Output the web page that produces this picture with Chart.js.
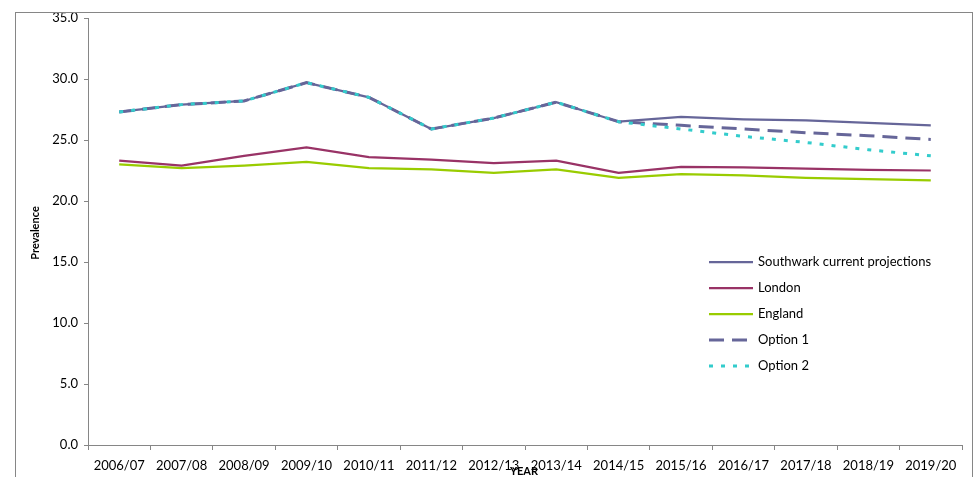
<!DOCTYPE html>
<html>
<head>
<meta charset="utf-8">
<script src="https://cdn.jsdelivr.net/npm/chart.js@4.4.0/dist/chart.umd.min.js"></script>
<style>
  body { margin: 0; background: #fff; }
  canvas { display: block; }
</style>
</head>
<body>
<canvas id="chart" width="976" height="477"></canvas>
<script>
// Chart data
const years = ['2006/07', '2007/08', '2008/09', '2009/10', '2010/11', '2011/12', '2012/13',
    '2013/14', '2014/15', '2015/16', '2016/17', '2017/18', '2018/19', '2019/20'];
const southwark = [27.3, 27.9, 28.2, 29.7, 28.5, 25.9, 26.8, 28.1, 26.5, 26.9, 26.7, 26.6, 26.4, 26.2];
const london = [23.3, 22.9, 23.7, 24.4, 23.6, 23.4, 23.1, 23.3, 22.3, 22.8, 22.75, 22.65, 22.55, 22.5];
const england = [23.0, 22.7, 22.9, 23.2, 22.7, 22.6, 22.3, 22.6, 21.9, 22.2, 22.1, 21.9, 21.8, 21.7];
const option1 = [27.3, 27.9, 28.2, 29.7, 28.5, 25.9, 26.8, 28.1, 26.5, 26.2, 25.9, 25.6, 25.35, 25.05];
const option2 = [27.3, 27.9, 28.2, 29.7, 28.5, 25.9, 26.8, 28.1, 26.5, 25.9, 25.3, 24.8, 24.2, 23.7];
const yTicks = [0, 5, 10, 15, 20, 25, 30, 35];

const FONT = 'Lato, "Liberation Sans", sans-serif';
const AXIS_GREY = '#868686';

const series = [
    { label: 'Southwark current projections', data: southwark, color: '#666699', dash: [], width: 2.25, order: 3 },
    { label: 'London', data: london, color: '#993366', dash: [], width: 2.25, order: 4 },
    { label: 'England', data: england, color: '#99CC00', dash: [], width: 2.25, order: 5 },
    { label: 'Option 1', data: option1, color: '#666699', dash: [15, 8], width: 3, order: 2 },
    { label: 'Option 2', data: option2, color: '#33CCCC', dash: [4, 8], width: 3, order: 1 }
];

// Frame, axis titles and the legend inside the plot
const decorations = {
    id: 'decorations',
    afterDraw(chart) {
        const ctx = chart.ctx;
        ctx.save();

        ctx.strokeStyle = AXIS_GREY;
        ctx.lineWidth = 1;
        ctx.strokeRect(15.5, 12.5, 957, 480);

        ctx.fillStyle = '#000';
        ctx.font = 'bold 11px ' + FONT;
        ctx.textAlign = 'center';
        ctx.textBaseline = 'middle';
        ctx.fillText('YEAR', 524, 471);

        ctx.save();
        ctx.translate(35, 233);
        ctx.rotate(-Math.PI / 2);
        ctx.fillText('Prevalence', 0, 0);
        ctx.restore();

        ctx.font = '13px ' + FONT;
        ctx.textAlign = 'left';
        series.forEach((s, i) => {
            const y = 262 + i * 26;
            ctx.beginPath();
            ctx.strokeStyle = s.color;
            ctx.lineWidth = s.width;
            ctx.setLineDash(s.dash);
            ctx.moveTo(709, y);
            ctx.lineTo(753, y);
            ctx.stroke();
            ctx.setLineDash([]);
            ctx.fillText(s.label, 758, y);
        });

        ctx.restore();
    }
};

new Chart(document.querySelector('#chart'), {
    type: 'line',
    data: {
        labels: years,
        datasets: series.map(s => ({
            label: s.label,
            data: s.data,
            borderColor: s.color,
            borderWidth: s.width,
            borderDash: s.dash,
            pointRadius: 0,
            tension: 0,
            fill: false,
            order: s.order
        }))
    },
    options: {
        responsive: false,
        animation: false,
        layout: { padding: { top: 18, right: 14, left: 0, bottom: 0 } },
        plugins: {
            legend: { display: false },
            tooltip: { enabled: false }
        },
        scales: {
            x: {
                offset: true,
                grid: { offset: true, drawOnChartArea: false, tickLength: 5, color: AXIS_GREY },
                border: { color: AXIS_GREY },
                ticks: { color: '#000', font: { family: FONT, size: 13 }, padding: 8, maxRotation: 0, autoSkip: false },
                afterFit: s => { s.height = 32; }
            },
            y: {
                min: yTicks[0],
                max: yTicks[yTicks.length - 1],
                afterBuildTicks: s => { s.ticks = yTicks.map(v => ({ value: v })); },
                grid: { drawOnChartArea: false, tickLength: 4, color: AXIS_GREY },
                border: { color: AXIS_GREY },
                ticks: {
                    color: '#000',
                    font: { family: FONT, size: 13 },
                    padding: 6,
                    callback: v => v.toFixed(1)
                },
                afterFit: s => { s.width = 88; }
            }
        }
    },
    plugins: [decorations]
});
</script>
</body>
</html>
